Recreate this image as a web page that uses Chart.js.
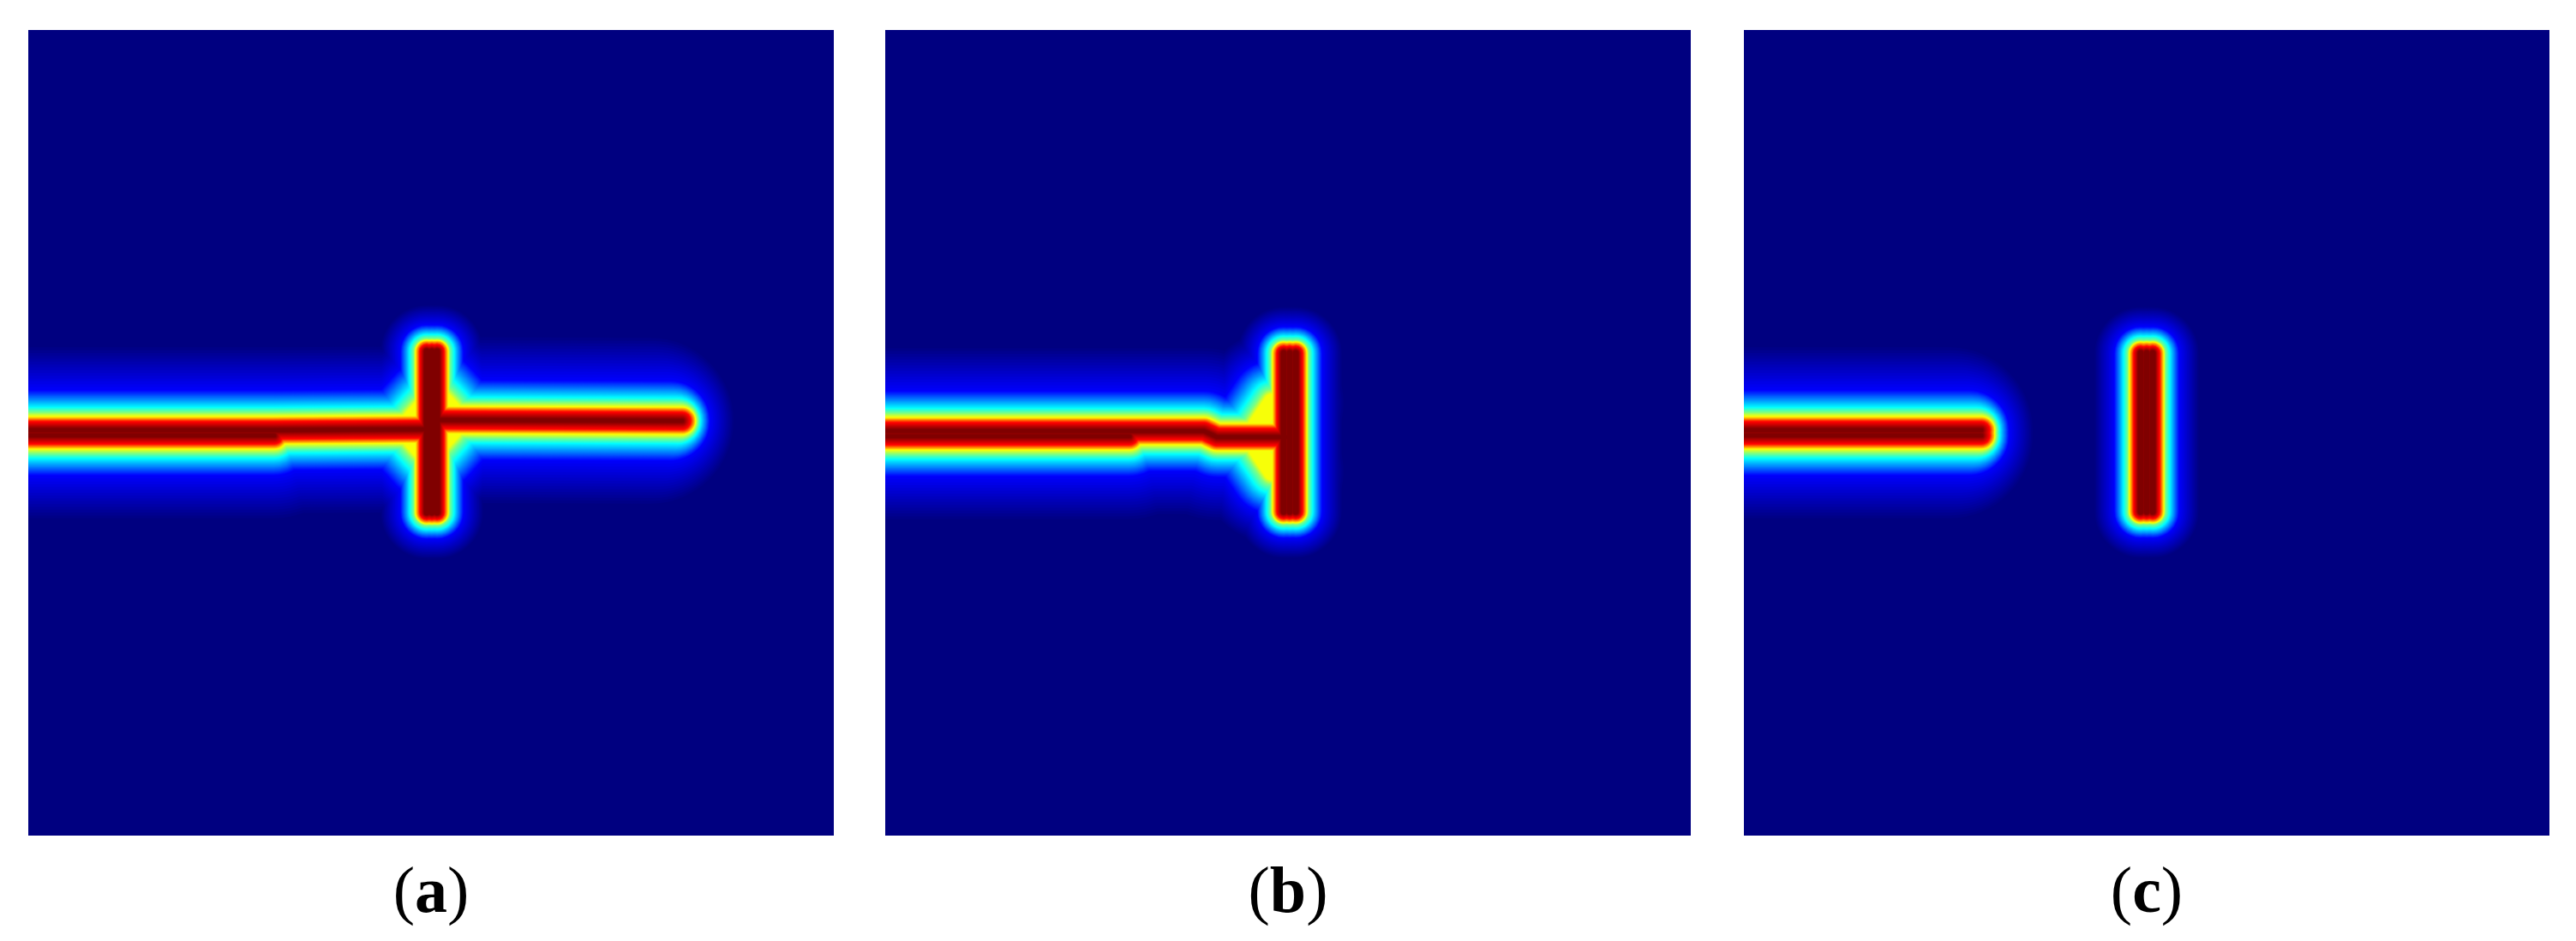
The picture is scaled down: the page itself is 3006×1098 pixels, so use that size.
<!DOCTYPE html>
<html>
<head>
<meta charset="utf-8">
<title>Phase field</title>
<script src="https://cdn.jsdelivr.net/npm/chart.js@4"></script>
<style>
    html, body { margin: 0; padding: 0; background: #fff; }
    body { position: relative; width: 3006px; height: 1098px; overflow: hidden; }
    canvas { position: absolute; top: 35px; }
    .caption {
        position: absolute; top: 988px; width: 200px; text-align: center;
        font: 76px/100px "Liberation Serif", serif; color: #000;
    }
    .caption b { font-weight: bold; }
</style>
</head>
<body>
<canvas id="panelA" width="940" height="940" style="left:33px"></canvas>
<canvas id="panelB" width="940" height="940" style="left:1033px"></canvas>
<canvas id="panelC" width="940" height="940" style="left:2035px"></canvas>
<div class="caption" style="left:403px">(<b>a</b>)</div>
<div class="caption" style="left:1403px">(<b>b</b>)</div>
<div class="caption" style="left:2405px">(<b>c</b>)</div>

<script>
// crack paths, in domain units (0-940, y from the top)
const aStemLower = [[-20, 473], [287, 473]];
const aStemUpper = [[-20, 467], [287, 467], [471, 466]];
const aBranch = [[471, 455], [763, 456]];
const aBarLeft = [[465, 375], [465, 563]];
const aBarMid = [[471, 375], [471, 563]];
const aBarRight = [[477, 375], [477, 563]];
const aFilletUR = [[477, 425], [505, 455]];
const aFilletUL = [[465, 435], [437, 466]];
const aFilletLL = [[465, 497], [437, 466]];
const aFilletLR = [[477, 487], [505, 456]];

const bStemLower = [[-20, 474], [285, 474]];
const bStemUpper = [[-20, 468], [372, 468], [387, 475], [472, 475]];
const bBarLeft = [[465, 377], [465, 562]];
const bBarMid = [[472, 377], [472, 562]];
const bBarRight = [[479, 377], [479, 562]];
const bFilletUL = [[452, 435], [425, 475]];
const bFilletLL = [[452, 515], [425, 475]];

const cStemLower = [[-20, 473], [277, 473]];
const cStemUpper = [[-20, 467], [277, 467]];
const cBarLeft = [[463, 377], [463, 562]];
const cBarMid = [[470, 377], [470, 562]];
const cBarRight = [[477, 377], [477, 562]];

// field value -> distance from the crack in px, measured on the zoomed crops
const fieldStops = [0, 0.125, 0.375, 0.5, 0.625, 0.875, 1];
const stemReach = [100, 47, 27, 21, 16, 10, 2];
const barReach = [55, 31, 20, 15, 13, 8, 3];
const filletReach = [85, 50, 26, 16, 10, 4, 2];
const FILLET_TOP = 0.62;
const LEVELS = 128;
const TIP_PULL = 0.45;

function jet(t) {
    const ch = v => Math.round(255 * Math.max(0, Math.min(1, 1.5 - Math.abs(4 * t - v))));
    return `rgb(${ch(3)},${ch(2)},${ch(1)})`;
}

function reachAt(reach, t) {
    let i = 0;
    while (i < fieldStops.length - 2 && t > fieldStops[i + 1]) i++;
    const f = (t - fieldStops[i]) / (fieldStops[i + 1] - fieldStops[i]);
    return reach[i] + f * (reach[i + 1] - reach[i]);
}

// one dataset per level per crack. Chart.js paints the first dataset last,
// so the dark red core goes first and the outer blue goes at the end
function buildDatasets(cracks) {
    const datasets = [];
    for (let l = LEVELS; l >= 1; l--) {
        const t = l / LEVELS;
        cracks.forEach(c => {
            if (c.reach === filletReach && t > FILLET_TOP) return; // no hot core in the corners
            const h = reachAt(c.reach, t);
            const pts = c.path.map(p => ({ x: p[0], y: p[1] }));
            if (c.tip && h > 15) pts[pts.length - 1].x -= TIP_PULL * (h - 15);
            datasets.push({
                data: pts,
                borderColor: jet(t),
                borderWidth: 2 * h,
                borderCapStyle: 'round',
                borderJoinStyle: 'round',
                pointRadius: 0,
                tension: 0,
                fill: false
            });
        });
    }
    return datasets;
}

const panelBackground = {
    id: 'panelBackground',
    beforeDraw(chart) {
        const a = chart.chartArea;
        chart.ctx.fillStyle = jet(0);
        chart.ctx.fillRect(a.left, a.top, a.right - a.left, a.bottom - a.top);
    }
};

function drawPanel(id, cracks) {
    new Chart(document.getElementById(id).getContext('2d'), {
        type: 'line',
        data: { datasets: buildDatasets(cracks) },
        plugins: [panelBackground],
        options: {
            responsive: false,
            animation: false,
            parsing: false,
            normalized: true,
            layout: { padding: 0 },
            plugins: { legend: { display: false }, tooltip: { enabled: false } },
            scales: {
                x: { type: 'linear', min: 0, max: 940, display: false },
                y: { type: 'linear', min: 0, max: 940, reverse: true, display: false }
            }
        }
    });
}

drawPanel('panelA', [
    { path: aStemLower, reach: stemReach },
    { path: aStemUpper, reach: stemReach },
    { path: aBranch, reach: stemReach, tip: true },
    { path: aBarLeft, reach: barReach },
    { path: aBarMid, reach: barReach },
    { path: aBarRight, reach: barReach },
    { path: aFilletUR, reach: filletReach },
    { path: aFilletUL, reach: filletReach },
    { path: aFilletLL, reach: filletReach },
    { path: aFilletLR, reach: filletReach }
]);
drawPanel('panelB', [
    { path: bStemLower, reach: stemReach },
    { path: bStemUpper, reach: stemReach, tip: true },
    { path: bBarLeft, reach: barReach },
    { path: bBarMid, reach: barReach },
    { path: bBarRight, reach: barReach },
    { path: bFilletUL, reach: filletReach },
    { path: bFilletLL, reach: filletReach }
]);
drawPanel('panelC', [
    { path: cStemLower, reach: stemReach, tip: true },
    { path: cStemUpper, reach: stemReach, tip: true },
    { path: cBarLeft, reach: barReach },
    { path: cBarMid, reach: barReach },
    { path: cBarRight, reach: barReach }
]);
</script>
</body>
</html>
